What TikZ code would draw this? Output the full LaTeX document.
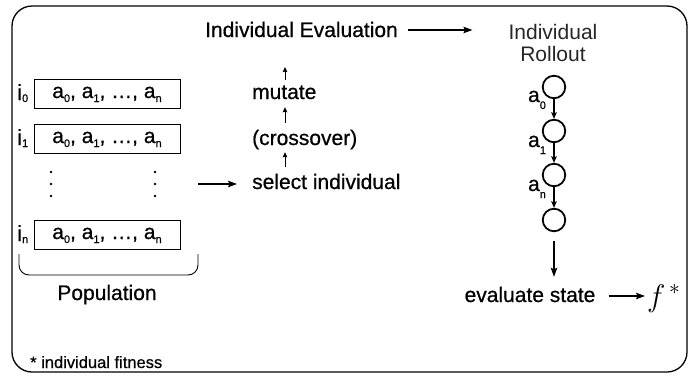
\documentclass[tikz,border=0pt]{standalone}
\usepackage{graphicx}
\usepackage{fontspec}
\setmainfont{Liberation Sans}[FakeBold=0.6]
\newfontfamily\thinfont{Liberation Sans}
\usetikzlibrary{arrows.meta}
\newcommand\sbs[2][4pt]{\raisebox{-#1}{\fontsize{11}{11}\selectfont #2}}
\begin{document}
\begin{tikzpicture}[x=1pt,y=-1pt,
  font=\fontsize{21}{24}\selectfont,
  frame/.style={draw, line width=1.3pt, rounded corners=20pt},
  popbox/.style={draw, line width=0.9pt, minimum width=146pt, minimum height=29pt,
    inner sep=0pt, text height=13pt, text depth=4pt},
  lbl/.style={inner sep=0pt, anchor=base west},
  clbl/.style={inner sep=0pt, anchor=base},
  txt/.style={inner sep=0pt, anchor=base west, text height=15pt, text depth=4pt},
  arr/.style={-{Stealth[length=9pt,width=6.5pt,inset=1.5pt]}, line width=1.1pt},
  smallarr/.style={-{Stealth[length=5pt,width=4.5pt,inset=0.5pt]}, line width=1pt},
  chainarr/.style={-{Stealth[length=6.5pt,width=5.5pt,inset=1pt]}, line width=1.2pt},
  state/.style={circle, draw, line width=1.8pt, minimum size=22.5pt, inner sep=0pt},
  dotfill/.style={fill=black}]
\useasboundingbox (0,0) rectangle (689,376);
\draw[frame] (12,6) rectangle (687,372);

% population
\node[popbox] (b0) at (107,93.5) {a\sbs{0}, a\sbs{1}, …, a\sbs{n}};
\node[popbox] (b1) at (107,138.5) {a\sbs{0}, a\sbs{1}, …, a\sbs{n}};
\node[popbox] (bn) at (107,234.5) {a\sbs{0}, a\sbs{1}, …, a\sbs{n}};
\node[lbl, font=\fontsize{22}{24}\selectfont] (i0) at (17,100) {i\sbs[2pt]{0}};
\node[lbl, font=\fontsize{22}{24}\selectfont] (i1) at (17,145) {i\sbs[2pt]{1}};
\node[lbl, font=\fontsize{22}{24}\selectfont] (in) at (17,241) {i\sbs[2pt]{n}};
\foreach \y in {172,184,196} {
  \fill[dotfill] (51,\y) circle (1.3);
  \fill[dotfill] (155,\y) circle (1.3);
}
\draw[line width=0.9pt, rounded corners=10pt] (19,254) -- (19,275) -- (198,275) -- (198,254);
\node[clbl] (poplbl) at (107,300) {Population};
\node[lbl, font=\fontsize{16.5}{18}\selectfont] (fit) at (30,368) {* individual fitness};

% middle
\node[txt] (ie) at (205,37) {Individual Evaluation};
\node[txt] (mut) at (252,99) {mutate};
\node[txt] (cross) at (252,145) {(crossover)};
\node[txt] (sel) at (252,189) {select individual};
\coordinate (ax) at (285,0);
\coordinate (mtop) at (285,67);
\draw[smallarr, shorten <=4pt] (mut.north -| ax) -- (mtop);
\draw[smallarr, shorten <=7pt, shorten >=4pt] (cross.north -| ax) -- (mut.south -| ax);
\draw[smallarr, shorten <=7pt, shorten >=3pt] (sel.north -| ax) -- (cross.south -| ax);
\coordinate (pa) at (198,184);
\draw[arr, shorten >=15pt] (pa) -- (sel.west |- pa);

% right
\node[clbl, text=black!85, font=\thinfont\fontsize{21}{24}\selectfont] (t1) at (553,39) {Individual};
\node[clbl, text=black!85, font=\thinfont\fontsize{21}{24}\selectfont] (t2) at (553,61) {Rollout};
\draw[arr, shorten <=10pt, shorten >=36pt] (ie.east |- 0,30) -- (t1.west |- 0,30);
\node[state] (c0) at (554,87) {};
\node[state] (c1) at (554,131) {};
\node[state] (c2) at (554,175) {};
\node[state] (c3) at (554,220) {};
\draw[chainarr] (c0) -- (c1);
\draw[chainarr] (c1) -- (c2);
\draw[chainarr] (c2) -- (c3);
\node[clbl, font=\fontsize{21}{22}\selectfont] (l0) at (537,102) {a\sbs[7pt]{0}};
\node[clbl, font=\fontsize{21}{22}\selectfont] (l1) at (537,147) {a\sbs[7pt]{1}};
\node[clbl, font=\fontsize{21}{22}\selectfont] (l2) at (537,191) {a\sbs[7pt]{n}};
\node[txt, anchor=base] (ev) at (530,302) {evaluate state};
\draw[arr, shorten <=9pt, shorten >=10pt] (c3.south) -- (ev.north -| c3);
\node[inner sep=0pt, anchor=base west, font=\fontsize{20}{22}\selectfont] (fs) at (647,306) {\scalebox{1.5}{$f^{\,*}$}};
\draw[arr, shorten <=13pt, shorten >=2pt] (ev.east |- 0,296) -- (fs.west |- 0,296);
\end{tikzpicture}
\end{document}
